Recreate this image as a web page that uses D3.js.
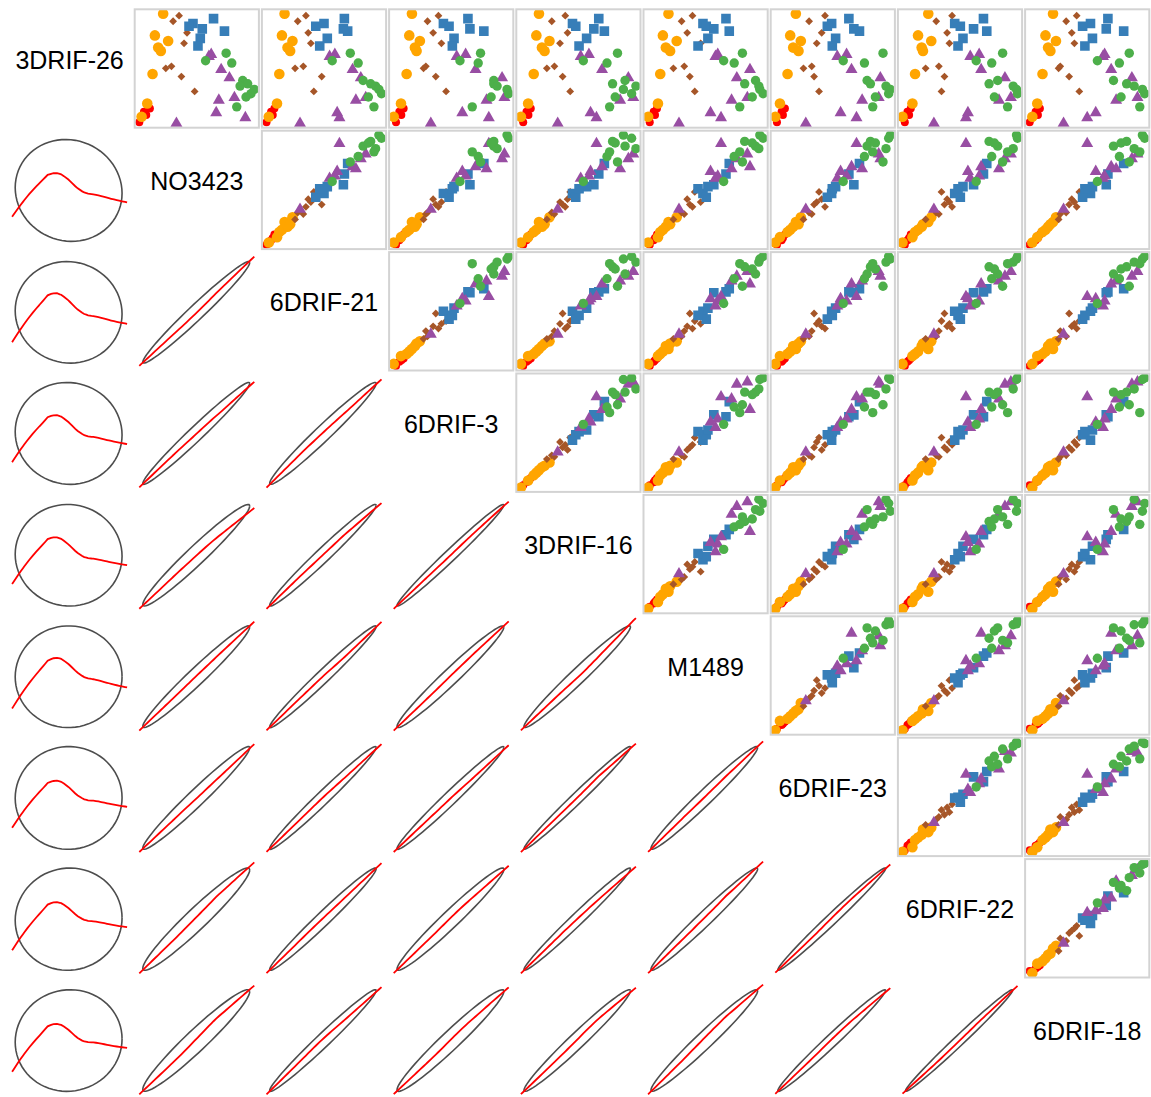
<!DOCTYPE html>
<html>
<head>
<meta charset="utf-8">
<script src="https://cdn.jsdelivr.net/npm/d3@7"></script>
<style>
  body { margin: 0; background: #fff; }
  svg { display: block; }
</style>
</head>
<body>
<svg id="chart" width="1151" height="1097"></svg>
<script>
// ---- data --------------------------------------------------------------
const variables = ["3DRIF-26", "NO3423", "6DRIF-21", "6DRIF-3", "3DRIF-16",
                   "M1489", "6DRIF-23", "6DRIF-22", "6DRIF-18"];

// cluster of every sample (4 + 8 + 8 + 7 + 9 + 10 samples)
const cluster = [
  "C1","C1","C1","C1",
  "C2","C2","C2","C2","C2","C2","C2","C2",
  "C3","C3","C3","C3","C3","C3","C3","C3",
  "C4","C4","C4","C4","C4","C4","C4",
  "C5","C5","C5","C5","C5","C5","C5","C5","C5",
  "C6","C6","C6","C6","C6","C6","C6","C6","C6","C6"
];
const clusterNames = ["C1", "C2", "C3", "C4", "C5", "C6"];

const drif3_26 = [14, 46, 56, 36,
  344, 278, 261, 241, 231, 161, 71, 31,
  338, 321, 286, 254, 184, 178, 153, 108,
  329, 314, 306, 298, 291, 269, 246,
  214, 220, 174, 149, 81, 89, 43, 28, 11,
  224, 201, 194, 141, 131, 124, 114, 101, 91, 61];
const no3423 = [14, 28, 46, 35,
  86, 61, 101, 71, 79, 54, 38, 21,
  134, 116, 158, 149, 111, 94, 141, 181,
  238, 176, 164, 204, 271, 198, 191,
  224, 231, 261, 286, 254, 301, 246, 334, 126,
  276, 214, 293, 326, 341, 318, 361, 351, 336, 308];
const drif6_21 = [13, 27, 37, 32,
  68, 60, 92, 77, 85, 52, 45, 20,
  133, 108, 140, 148, 125, 100, 181, 157,
  250, 188, 163, 247, 260, 198, 175,
  205, 221, 275, 300, 285, 315, 228, 235, 115,
  268, 213, 292, 307, 330, 345, 355, 363, 323, 340];
const drif6_3 = [20, 30, 43, 36,
  68, 60, 92, 77, 82, 52, 35, 13,
  148, 115, 132, 157, 110, 103, 140, 171,
  237, 163, 180, 243, 285, 195, 190,
  203, 230, 260, 340, 293, 347, 220, 300, 125,
  275, 213, 268, 315, 315, 325, 355, 360, 307, 250];
const drif3_16 = [20, 30, 43, 36,
  68, 60, 100, 77, 85, 52, 35, 13,
  148, 107, 155, 132, 115, 92, 140, 163,
  250, 170, 180, 235, 267, 213, 190,
  195, 220, 260, 340, 315, 355, 225, 243, 125,
  307, 203, 275, 330, 292, 363, 325, 350, 300, 283];
const m1489 = [18, 30, 40, 34,
  75, 58, 100, 67, 80, 50, 43, 13,
  148, 115, 132, 173, 123, 90, 140, 155,
  250, 180, 190, 213, 260, 195, 165,
  218, 225, 323, 283, 267, 315, 203, 235, 107,
  300, 243, 275, 340, 307, 350, 353, 363, 330, 292];
const drif6_23 = [18, 32, 42, 36,
  75, 58, 90, 67, 83, 50, 27, 13,
  163, 115, 153, 138, 123, 98, 130, 145,
  235, 183, 170, 250, 267, 195, 185,
  200, 228, 243, 330, 275, 325, 210, 258, 105,
  338, 218, 282, 290, 300, 347, 360, 355, 315, 307];
const drif6_22 = [22, 30, 40, 35,
  93, 62, 102, 73, 77, 53, 45, 15,
  165, 117, 150, 157, 125, 85, 142, 133,
  260, 173, 190, 230, 270, 198, 183,
  220, 247, 253, 325, 307, 343, 213, 207, 110,
  318, 238, 285, 303, 277, 350, 360, 363, 293, 333];
const drif6_18 = [13, 31, 44, 38,
  84, 61, 93, 69, 76, 52, 36, 21,
  156, 124, 141, 149, 106, 101, 133, 164,
  251, 198, 174, 246, 299, 204, 181,
  236, 241, 261, 324, 276, 341, 214, 188, 116,
  316, 219, 286, 268, 308, 331, 356, 363, 291, 348];

const columns = [drif3_26, no3423, drif6_21, drif6_3, drif3_16,
                 m1489, drif6_23, drif6_22, drif6_18];

// ---- styling -----------------------------------------------------------
const clusterColor = d3.scaleOrdinal(clusterNames,
  ["#FF0000", "#FFA500", "#A65628", "#377EB8", "#984EA3", "#4DAF4A"]);
const clusterShape = d3.scaleOrdinal(clusterNames,
  ["smallCircle", "circle", "diamond", "square", "triangle", "midCircle"]);

const x0 = 7.5, y0 = 9.3, stepX = 127.2, stepY = 121.4, gap = 3;
const boxW = stepX - gap, boxH = stepY - gap;
const nVar = variables.length;

const svg = d3.select("#chart");
const defs = svg.append("defs");

function paddedDomain(values) {
  const [lo, hi] = d3.extent(values);
  const pad = (hi - lo) * 0.04;
  return [lo - pad, hi + pad];
}
const domains = columns.map(paddedDomain);

// symbol path for each marker kind, centred on the origin
function markerPath(kind) {
  switch (kind) {
    case "diamond": { const r = 3.9; return `M0,${-r}L${r},0L0,${r}L${-r},0Z`; }
    case "square":  { const s = 4.8; return `M${-s},${-s}H${s}V${s}H${-s}Z`; }
    case "triangle": {
      const w = 12, h = w * Math.sqrt(3) / 2;
      return `M0,${-2 * h / 3}L${w / 2},${h / 3}L${-w / 2},${h / 3}Z`;
    }
  }
  return null;
}
const circleRadius = { smallCircle: 4, circle: 5.3, midCircle: 4.7 };

// locally weighted scatterplot smoothing (Cleveland's lowess)
function lowess(xIn, yIn, f = 2 / 3, iter = 3) {
  const order = d3.range(xIn.length).sort((a, b) => xIn[a] - xIn[b]);
  const x = order.map(k => xIn[k]), y = order.map(k => yIn[k]);
  const n = x.length;
  const ns = Math.max(2, Math.min(n, Math.floor(f * n + 1e-7)));
  const rw = new Array(n).fill(1);
  const ys = new Array(n).fill(0);
  const range = x[n - 1] - x[0];
  for (let it = 0; it <= iter; it++) {
    let nleft = 0, nright = ns - 1;
    for (let i = 0; i < n; i++) {
      while (nright < n - 1) {
        if (x[i] - x[nleft] <= x[nright + 1] - x[i]) break;
        nleft++; nright++;
      }
      const h = Math.max(x[i] - x[nleft], x[nright] - x[i]);
      const h9 = 0.999 * h, h1 = 0.001 * h;
      const w = new Array(n).fill(0);
      let a = 0, j = nleft;
      while (j < n) {
        const r = Math.abs(x[j] - x[i]);
        if (r <= h9) {
          w[j] = (r <= h1 ? 1 : Math.pow(1 - Math.pow(r / h, 3), 3)) * rw[j];
          a += w[j];
        } else if (x[j] > x[i]) break;
        j++;
      }
      const nrt = j - 1;
      if (a <= 0) { ys[i] = y[i]; continue; }
      for (let k = nleft; k <= nrt; k++) w[k] /= a;
      if (h > 0) {
        let mx = 0;
        for (let k = nleft; k <= nrt; k++) mx += w[k] * x[k];
        let b = x[i] - mx, c = 0;
        for (let k = nleft; k <= nrt; k++) c += w[k] * (x[k] - mx) * (x[k] - mx);
        if (Math.sqrt(c) > 0.001 * range) {
          b /= c;
          for (let k = nleft; k <= nrt; k++) w[k] *= b * (x[k] - mx) + 1;
        }
      }
      let s = 0;
      for (let k = nleft; k <= nrt; k++) s += w[k] * y[k];
      ys[i] = s;
    }
    if (it === iter) break;
    const res = y.map((v, k) => Math.abs(v - ys[k]));
    const cmad = 6 * d3.median(res);
    if (cmad < 1e-7 * d3.mean(res)) break;
    for (let k = 0; k < n; k++) {
      const r = res[k];
      rw[k] = r <= 0.001 * cmad ? 1 : r > 0.999 * cmad ? 0 : Math.pow(1 - (r / cmad) ** 2, 2);
    }
  }
  return x.map((v, k) => [v, ys[k]]);
}

// 68% data ellipse (F-based radius) from the sample covariance
function dataEllipse(xs, ys, segments = 75) {
  const n = xs.length;
  const mx = d3.mean(xs), my = d3.mean(ys);
  let sxx = 0, syy = 0, sxy = 0;
  for (let k = 0; k < n; k++) {
    const dx = xs[k] - mx, dy = ys[k] - my;
    sxx += dx * dx; syy += dy * dy; sxy += dx * dy;
  }
  sxx /= n - 1; syy /= n - 1; sxy /= n - 1;
  const a = Math.sqrt(sxx), b = sxy / a, c = Math.sqrt(Math.max(syy - b * b, 0));
  const dfd = n - 1, p = 0.68;
  const fq = dfd / 2 * (Math.pow(1 - p, -2 / dfd) - 1);
  const radius = Math.sqrt(2 * fq);
  return d3.range(segments).map(s => {
    const t = 2 * Math.PI * s / (segments - 1);
    const u = Math.cos(t), v = Math.sin(t);
    return [mx + radius * u * a, my + radius * (u * b + v * c)];
  });
}

// ---- draw every cell ---------------------------------------------------
for (let i = 0; i < nVar; i++) {
  for (let j = 0; j < nVar; j++) {
    const left = x0 + j * stepX, top = y0 + i * stepY;
    const xs = d3.scaleLinear().domain(domains[j]).range([left, left + boxW]);
    const ys = d3.scaleLinear().domain(domains[i]).range([top + boxH, top]);
    const g = svg.append("g");

    if (i === j) {
      g.append("text")
        .attr("x", left + boxW / 2)
        .attr("y", top + boxH / 2)
        .attr("text-anchor", "middle")
        .attr("font-family", "'Liberation Sans', Arial, Helvetica, sans-serif")
        .attr("font-size", 25)
        .attr("fill", "#000")
        .text(variables[i]);
    } else if (i < j) {
      const clipId = `clip-${i}-${j}`;
      defs.append("clipPath").attr("id", clipId)
        .append("rect").attr("x", left).attr("y", top)
        .attr("width", boxW).attr("height", boxH);
      const pts = g.append("g").attr("clip-path", `url(#${clipId})`);
      const idx = d3.range(cluster.length)
        .sort((a, b) => clusterNames.indexOf(cluster[a]) - clusterNames.indexOf(cluster[b]) || a - b);
      idx.forEach(k => {
        const kind = clusterShape(cluster[k]);
        const cx = xs(columns[j][k]), cy = ys(columns[i][k]);
        const col = clusterColor(cluster[k]);
        if (circleRadius[kind]) {
          pts.append("circle").attr("cx", cx).attr("cy", cy)
            .attr("r", circleRadius[kind]).attr("fill", col);
        } else {
          pts.append("path").attr("d", markerPath(kind))
            .attr("transform", `translate(${cx},${cy})`).attr("fill", col);
        }
      });
      g.append("rect").attr("x", left).attr("y", top)
        .attr("width", boxW).attr("height", boxH)
        .attr("fill", "none").attr("stroke", "#d3d3d3").attr("stroke-width", 2);
    } else {
      const xv = columns[j], yv = columns[i];
      const [xl, xh] = domains[j], [yl, yh] = domains[i];
      const ell = dataEllipse(xv, yv).map(([ex, ey]) =>
        [Math.min(Math.max(ex, xl), xh), Math.min(Math.max(ey, yl), yh)]);
      const line = d3.line().x(d => xs(d[0])).y(d => ys(d[1]));
      g.append("path").attr("d", line(ell))
        .attr("fill", "none").attr("stroke", "#4d4d4d").attr("stroke-width", 1.6);
      g.append("path").attr("d", line(lowess(xv, yv)))
        .attr("fill", "none").attr("stroke", "#ff0000").attr("stroke-width", 1.8);
    }
  }
}
</script>
</body>
</html>
